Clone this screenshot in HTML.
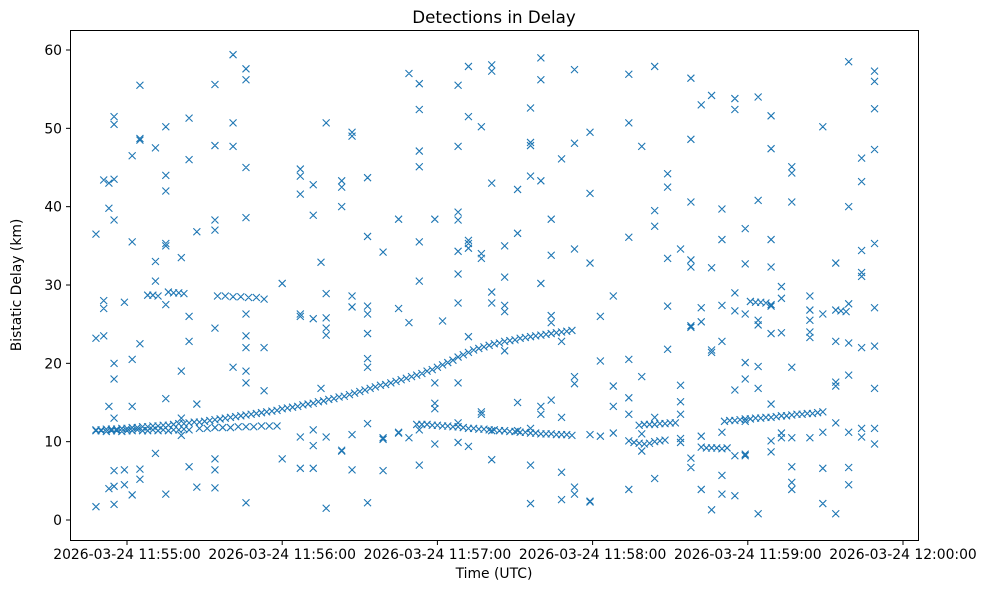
<!DOCTYPE html>
<html><head><meta charset="utf-8"><style>
body{margin:0;background:#fff;}
svg{display:block;font-family:"DejaVu Sans","Liberation Sans",sans-serif;}
</style></head><body>
<svg id="chart" width="988" height="590" xmlns="http://www.w3.org/2000/svg">
<rect width="988" height="590" fill="#fff"/>
<text x="494" y="23" text-anchor="middle" font-size="16.7">Detections in Delay</text>
<text x="494" y="578" text-anchor="middle" font-size="13.9">Time (UTC)</text>
<text transform="translate(21,285) rotate(-90)" text-anchor="middle" font-size="13.9">Bistatic Delay (km)</text>
<g id="marks"></g>
<g id="axes"></g>
<rect x="70.5" y="30.5" width="848" height="510" fill="none" stroke="#000" stroke-width="1"/>
</svg>
<script>
// seconds after 11:54:00
const xTickSeconds = [60,120,180,240,300,360];
const xTickLabels = ["2026-03-24 11:55:00","2026-03-24 11:56:00","2026-03-24 11:57:00","2026-03-24 11:58:00","2026-03-24 11:59:00","2026-03-24 12:00:00"];
const yTicks = [0,10,20,30,40,50,60];

const trackStarts = [48,48,88,172,254,258,282,291,68,76,95,301,334];
const trackSteps  = [2,2,3,2,2,2,2,2,2,2,3,2,2];
const trackValues = [
 [11.5,11.5,11.6,11.6,11.6,11.7,11.7,11.8,11.8,11.9,11.9,12.0,12.0,12.1,12.1,12.2,12.3,12.3,12.4,12.5,12.5,12.6,12.7,12.8,12.9,13.0,13.1,13.2,13.3,13.4,13.5,13.6,13.7,13.8,13.9,14.0,14.2,14.3,14.4,14.5,14.7,14.8,14.9,15.1,15.2,15.4,15.5,15.7,15.8,16.0,16.2,16.4,16.6,16.8,17.0,17.2,17.3,17.5,17.7,17.9,18.1,18.3,18.5,18.7,19.0,19.2,19.5,19.8,20.1,20.4,20.8,21.1,21.4,21.7,21.9,22.1,22.3,22.5,22.6,22.8,22.9,23.0,23.2,23.3,23.4,23.5,23.6,23.7,23.8,23.9,24.0,24.1,24.2],
 [11.4,11.4,11.3,11.4,11.4,11.3,11.4,11.4,11.5,11.4,11.4,11.5,11.4,11.5,11.4,11.5,11.5,11.6,11.5],
 [11.7,11.7,11.8,11.8,11.8,11.9,11.9,11.9,12.0,12.0,12.0],
 [12.2,12.2,12.2,12.1,12.1,12.0,12.0,11.9,11.9,11.8,11.7,11.7,11.6,11.6,11.5,11.5,11.4,11.4,11.3,11.3,11.2,11.2,11.1,11.1,11.0,11.0,11.0,10.9,10.9,10.9,10.8],
 [10.1,9.9,9.8,9.7,9.8,10.0,10.1,10.2],
 [12.1,12.2,12.2,12.2,12.3,12.3,12.4,12.4],
 [9.3,9.2,9.2,9.2,9.1,9.2],
 [12.6,12.7,12.7,12.8,12.9,12.9,13.0,13.0,13.1,13.1,13.2,13.3,13.3,13.4,13.5,13.5,13.6,13.6,13.7,13.8],
 [28.7,28.7,28.6],
 [29.1,29.0,29.0,28.9],
 [28.6,28.6,28.5,28.5,28.4,28.4],
 [27.9,27.8,27.8,27.7],
 [26.8,26.7,26.6]
];

const colTimes = [48,51,53,55,59,62,65,71,75,81,84,87,94,101,106,113,120,127,132,135,137,143,147,153,159,165,169,173,179,182,188,192,197,201,206,211,216,220,224,228,233,239,243,248,254,259,264,269,274,278,282,286,290,295,299,304,309,313,317,324,329,334,339,344,349];
const colDelays = [
 [1.7,1.7,36.5,23.2],[43.4,28,27,23.5],[43,39.8,14.5,4],[50.5,43.5,38.3,51.5,20,18,13,4.3,6.3,2],[27.8,6.4,4.5],
 [46.5,35.5,3.2,14.5,20.5],[48.7,55.5,48.5,22.5,6.5,5.2],[33,8.5,47.5,30.5],[44,42,35.3,35,27.5,3.3,15.5,50.2],[33.5,19,13,10.8],
 [51.3,46,26,22.8,6.8],[4.2,36.8,14.8],[55.6,47.8,38.3,37,24.5,7.8,6.4,4.1],[47.7,19.5,59.4,50.7],[23.5,22,2.2,45,56.2,57.6,38.6,19,26.3,17.5],
 [28.2,16.5,22],[30.2,7.8],[44.8,43.9,41.6,26.3,26,10.6,6.6],[42.8,38.9,25.7,6.6,11.5,9.5],[32.9,16.8],
 [50.7,28.9,23.6,24.5,25.8,10.6,1.5],[43.3,40,42.5,8.9,8.8],[27.2,28.6,49,49.5,6.4,10.9],[2.2,36.2,43.7,20.6,19.5,27.3,26.3,23.8,12.3],[34.2,10.3,6.3,10.5],
 [38.4,27,11.1,11.2],[57,25.2,10.5],[55.7,52.4,47.1,45.1,35.5,30.5,7,11.5],[38.4,17.5,14.9,14.2,9.7],[25.4],
 [55.5,47.7,39.3,38.3,34.3,31.4,27.7,17.5,12.4,9.9],[51.5,57.9,35.7,35.3,34.7,23.4,9.4],[50.2,34,33.4,13.5,13.8],[57.3,58.1,43,29.1,27.7,11.4,7.7],[35,31,27.4,26.6,21.6],
 [42.2,36.6,15,11.4],[52.6,43.9,48.2,47.8,2.1,7,11.7],[56.2,59,43.3,30.2,14.5,13.5],[38.4,33.8,26.1,25.2,15.3],[46.1,22.8,13.1,6.1,2.6],
 [57.5,48.1,34.6,18.3,17.4,3.3,4.2],[49.5,41.7,32.8,32.8,10.9,2.4,2.3],[20.3,26,10.7],[28.6,17.1,14.5,11.1],[56.9,50.7,36.1,20.5,13.5,3.9,15.6],
 [47.7,18.3,8.8,11],[57.9,39.5,37.5,12.2,5.3,13.1],[27.3,21.8,44.2,42.5,33.4],[34.6,17.2,15.1,13.5,10.4,9.9],[56.4,48.6,40.6,32.3,33.2,24.8,24.6,7.9,6.7],
 [53,27.1,25.3,3.9,10.7],[54.2,32.2,21.4,21.7,1.3],[39.7,35.8,27.4,22.8,5.7,3.3,11.2],[52.4,53.8,29,26.7,16.6,8.2,3.1],[37.2,32.7,26.3,20.1,18,8.2,8.4,12.6],
 [54,40.8,25.5,19.6,24.9,0.8,16.8],[51.6,47.4,35.8,32.3,27.5,27.3,23.8,14.8,8.7,10.1],[29.8,28.3,23.9,10.5,11.1],[45.1,40.6,44.3,19.5,10.5,4.8,3.9,6.8],[23.3,24,25.5,28.6,26.8,10.5],
 [50.2,26.3,11.2,6.6,2.1],[32.8,22.8,17.6,17.1,12.4,0.8],[58.5,40,27.6,18.5,6.7,4.5,22.6,11.2],[46.2,43.2,34.4,31.6,31.1,22,10.6,11.7,10.6],[56,57.3,52.5,47.3,35.3,27.1,22.2,16.8,11.7,9.7]
];

const NS="http://www.w3.org/2000/svg";
function xScale(t){return 127 + (t-60)*(776/300);}
function yScale(v){return 520 - v*(470/60);}
const marks=document.getElementById('marks');
const axes=document.getElementById('axes');
function mk(tag,attrs,parent){const e=document.createElementNS(NS,tag);for(const k in attrs)e.setAttribute(k,attrs[k]);parent.appendChild(e);return e;}
let d="";
function addX(t,v){const x=xScale(t),y=yScale(v),r=3.5;d+=`M${x-r},${y-r}L${x+r},${y+r}M${x-r},${y+r}L${x+r},${y-r}`;}
trackValues.forEach((vals,i)=>vals.forEach((v,j)=>addX(trackStarts[i]+j*trackSteps[i],v)));
colTimes.forEach((t,i)=>colDelays[i].forEach(v=>addX(t,v)));
const p=mk('path',{d:d,stroke:'#1f77b4','stroke-width':'1.1',fill:'none'},marks);


xTickSeconds.forEach((t,i)=>{
  const x=xScale(t);
  const l=mk('line',{x1:x,x2:x,y1:540.5,y2:545,stroke:'#000'},axes);
  
  
  const tx=mk('text',{x:x,y:559,'text-anchor':'middle','font-size':'13.9'},axes);
  tx.textContent=xTickLabels[i];
  
  
});
yTicks.forEach(v=>{
  const y=yScale(v);
  const l=mk('line',{x1:66,x2:70.5,y1:y,y2:y,stroke:'#000'},axes);
  
  
  const tx=mk('text',{x:62,y:y+5,'text-anchor':'end','font-size':'13.9'},axes);
  tx.textContent=v;
  
  
});
</script>
</body></html>
